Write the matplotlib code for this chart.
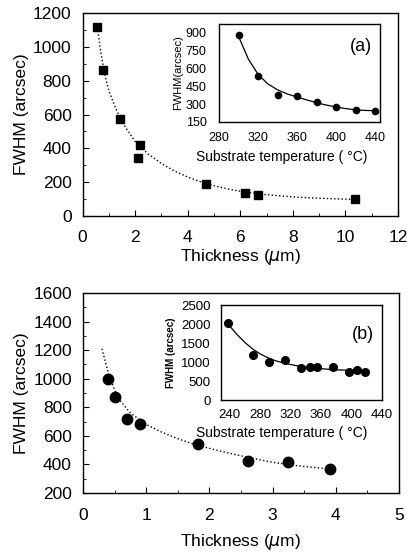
import matplotlib
matplotlib.use("Agg")
import matplotlib.pyplot as plt
from matplotlib.ticker import MultipleLocator

plt.rcParams['font.family'] = ['Liberation Sans', 'DejaVu Sans']

# (a) thickness series, squares + dotted fit
thick_a = [0.56, 0.79, 1.42, 2.18, 2.12, 4.71, 6.17, 6.68, 10.38]
fwhm_a = [1118, 866, 576, 422, 343, 186, 136, 122, 97]
fit_a_x = [0.56, 0.7, 0.85, 1.0, 1.25, 1.5, 2.0, 2.5, 3.0, 3.5, 4.0, 4.7, 5.5, 6.2, 7.0, 8.0, 9.0, 10.4]
fit_a_y = [1118, 960, 830, 740, 640, 555, 440, 365, 310, 265, 230, 190, 160, 140, 125, 112, 104, 97]

# (a) inset: substrate temperature
temp_a = [300, 320, 340, 360, 380, 400, 420, 440]
tfwhm_a = [880, 535, 380, 365, 320, 280, 248, 245]
tfit_a_x = [300, 310, 320, 330, 340, 350, 360, 370, 380, 390, 400, 410, 420, 430, 440]
tfit_a_y = [870, 680, 550, 470, 420, 385, 360, 335, 312, 292, 276, 262, 252, 247, 245]

# (b) thickness series, circles + dotted fit
thick_b = [0.40, 0.50, 0.70, 0.90, 1.82, 2.61, 3.25, 3.91]
fwhm_b = [1000, 875, 720, 685, 545, 425, 420, 370]
fit_b_x = [0.3, 0.4, 0.5, 0.6, 0.75, 1.0, 1.25, 1.5, 1.8, 2.2, 2.6, 3.0, 3.4, 3.9]
fit_b_y = [1210, 1040, 920, 840, 760, 680, 625, 580, 535, 490, 450, 415, 390, 368]

# (b) inset
temp_b = [238, 270, 292, 313, 334, 345, 355, 376, 397, 408, 418]
tfwhm_b = [2020, 1200, 1010, 1060, 860, 875, 875, 865, 735, 800, 745]
tfit_b_x = [238, 250, 260, 270, 280, 290, 300, 315, 330, 345, 360, 380, 400, 420]
tfit_b_y = [2000, 1720, 1520, 1350, 1220, 1120, 1040, 960, 900, 860, 830, 800, 785, 775]


def style_axes(ax, size, xpad, ypad):
    ax.tick_params(which='both', direction='in', labelsize=size)
    ax.tick_params(axis='x', which='both', pad=xpad)
    ax.tick_params(axis='y', which='both', pad=ypad)
    ax.tick_params(which='major', length=4)
    ax.tick_params(which='minor', length=2)
    for s in ax.spines.values():
        s.set_linewidth(1.0)


fig = plt.figure(figsize=(4.07, 5.52), dpi=100)

# ---- top panel
ax1 = fig.add_axes([0.203, 0.609, 0.775, 0.367])
ax1.plot(fit_a_x, fit_a_y, ':', color='black', lw=1.0)
ax1.plot(thick_a, fwhm_a, 's', color='black', ms=6)
ax1.set_xlim(0, 12)
ax1.set_ylim(0, 1200)
ax1.xaxis.set_major_locator(MultipleLocator(2))
ax1.xaxis.set_minor_locator(MultipleLocator(1))
ax1.yaxis.set_major_locator(MultipleLocator(200))
ax1.yaxis.set_minor_locator(MultipleLocator(100))
style_axes(ax1, 12.5, 10, 8)
ax1.set_xlabel('Thickness ($\\mu$m)', fontsize=12.5, labelpad=2)
ax1.set_ylabel('FWHM (arcsec)', fontsize=12.5, labelpad=3)

ins1 = fig.add_axes([0.538, 0.779, 0.396, 0.178])
ins1.plot(tfit_a_x, tfit_a_y, '-', color='black', lw=0.9)
ins1.plot(temp_a, tfwhm_a, 'o', color='black', ms=4.5)
ins1.set_xlim(280, 445)
ins1.set_ylim(150, 975)
ins1.set_xticks([280, 320, 360, 400, 440])
ins1.set_yticks([150, 300, 450, 600, 750, 900])
style_axes(ins1, 9, 7, 9)
ins1.tick_params(which='both', length=0)
ins1.set_xlabel('Substrate temperature ( °C)', fontsize=10, labelpad=3)
ins1.xaxis.set_label_coords(0.39, -0.28)
ins1.set_ylabel('FWHM(arcsec)', fontsize=8, labelpad=2)
ins1.text(0.95, 0.72, '(a)', transform=ins1.transAxes, fontsize=13, ha='right')

# ---- bottom panel
ax2 = fig.add_axes([0.204, 0.107, 0.776, 0.362])
ax2.plot(fit_b_x, fit_b_y, ':', color='black', lw=1.0)
ax2.plot(thick_b, fwhm_b, 'o', color='black', ms=7.5)
ax2.set_xlim(0, 5)
ax2.set_ylim(200, 1600)
ax2.xaxis.set_major_locator(MultipleLocator(1))
ax2.xaxis.set_minor_locator(MultipleLocator(0.5))
ax2.yaxis.set_major_locator(MultipleLocator(200))
ax2.yaxis.set_minor_locator(MultipleLocator(100))
style_axes(ax2, 12.5, 11, 8)
ax2.set_xlabel('Thickness ($\\mu$m)', fontsize=12.5, labelpad=6)
ax2.set_ylabel('FWHM (arcsec)', fontsize=12.5, labelpad=3)

ins2 = fig.add_axes([0.542, 0.275, 0.396, 0.172])
ins2.plot(tfit_b_x, tfit_b_y, '-', color='black', lw=0.9)
ins2.plot(temp_b, tfwhm_b, 'o', color='black', ms=5.5)
ins2.set_xlim(228, 440)
ins2.set_ylim(0, 2500)
ins2.set_xticks([240, 280, 320, 360, 400, 440])
ins2.set_yticks([0, 500, 1000, 1500, 2000, 2500])
style_axes(ins2, 9.5, 6, 7)
ins2.tick_params(which='both', length=0)
ins2.set_xlabel('Substrate temperature ( °C)', fontsize=10, labelpad=3)
ins2.xaxis.set_label_coords(0.38, -0.27)
ins2.set_ylabel('FWHM (arcsec)', fontsize=7, labelpad=4, fontweight='bold')
ins2.text(0.95, 0.64, '(b)', transform=ins2.transAxes, fontsize=13, ha='right')

fig.savefig('out.png', dpi=100)
